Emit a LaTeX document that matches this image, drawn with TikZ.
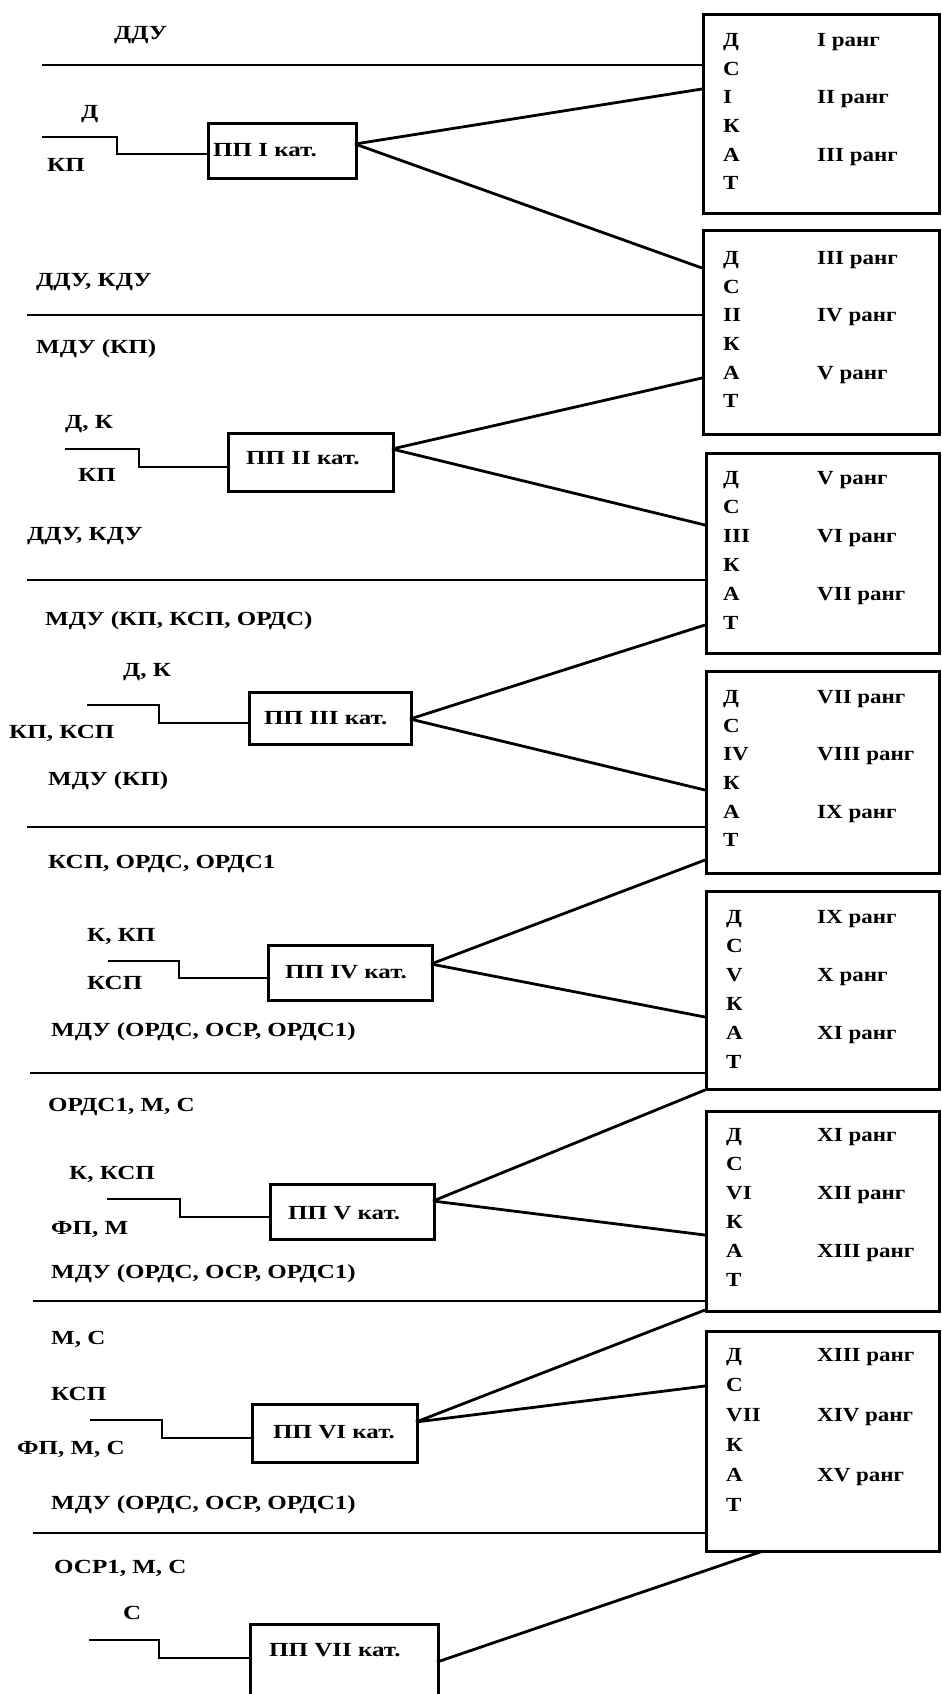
\documentclass[tikz,border=0pt]{standalone}
\usepackage{fontspec}
\newfontfamily\lblfont[FakeStretch=1.25]{Liberation Serif}
\newfontfamily\boxfont[FakeStretch=1.15]{Liberation Serif}
\begin{document}
\begin{tikzpicture}[x=1pt,y=-1pt,
  lbl/.style={anchor=west, inner sep=0pt, text height=13.2pt, text depth=0pt,
    font=\lblfont\bfseries\fontsize{20}{24}\selectfont},
  blbl/.style={lbl, font=\boxfont\bfseries\fontsize{20}{24}\selectfont},
  ln/.style={line width=2.8pt},
  ppbox/.style={draw, line width=3pt, inner sep=0pt, anchor=north west},
  rbox/.style={draw, line width=3.2pt, inner sep=0pt, anchor=north west},
]
\useasboundingbox[fill=white] (0,0) rectangle (942,1694);

% right boxes
\node[rbox, minimum width=236pt, minimum height=199pt] (r1) at (702,13) {};
\node[rbox, minimum width=236pt, minimum height=204pt] (r2) at (702,229) {};
\node[rbox, minimum width=233pt, minimum height=200pt] (r3) at (705,452) {};
\node[rbox, minimum width=233pt, minimum height=202pt] (r4) at (705,670) {};
\node[rbox, minimum width=233pt, minimum height=198pt] (r5) at (705,890) {};
\node[rbox, minimum width=233pt, minimum height=200pt] (r6) at (705,1110) {};
\node[rbox, minimum width=233pt, minimum height=220pt] (r7) at (705,1330) {};

\foreach \b/\xl/\yo/\dy/\num/\ra/\rb/\rc in {
  1/723/40/28.6/I/I/II/III,
  2/723/258/28.6/II/III/IV/V,
  3/723/478/29/III/V/VI/VII,
  4/723/697/28.6/IV/VII/VIII/IX,
  5/726/917/29/V/IX/X/XI,
  6/726/1135/29/VI/XI/XII/XIII,
  7/726/1355/30/VII/XIII/XIV/XV}{
  \foreach \t [count=\i from 0] in {Д,С,\num,К,А,Т}
    \node[blbl] (r\b l\i) at ({\xl},{\yo+\dy*\i}) {\t};
  \node[blbl] (r\b a) at (817,{\yo}) {\ra\ ранг};
  \node[blbl] (r\b b) at (817,{\yo+2*\dy}) {\rb\ ранг};
  \node[blbl] (r\b c) at (817,{\yo+4*\dy}) {\rc\ ранг};
}

% PP boxes
\node[ppbox, minimum width=148pt, minimum height=55pt] (p1) at (207,122) {};
\node[ppbox, minimum width=165pt, minimum height=58pt] (p2) at (227,432) {};
\node[ppbox, minimum width=162pt, minimum height=52pt] (p3) at (248,691) {};
\node[ppbox, minimum width=164pt, minimum height=55pt] (p4) at (267,944) {};
\node[ppbox, minimum width=164pt, minimum height=55pt] (p5) at (269,1183) {};
\node[ppbox, minimum width=165pt, minimum height=58pt] (p6) at (251,1403) {};
\node[ppbox, minimum width=188pt, minimum height=120pt] (p7) at (249,1623) {};

\node[lbl] (p1t) at (213,150) {ПП I кат.};
\node[lbl] (p2t) at (246,458) {ПП II кат.};
\node[lbl] (p3t) at (264,718) {ПП III кат.};
\node[lbl] (p4t) at (285,972) {ПП IV кат.};
\node[lbl] (p5t) at (288,1213) {ПП V кат.};
\node[lbl] (p6t) at (273,1432) {ПП VI кат.};
\node[lbl] (p7t) at (269,1650) {ПП VII кат.};

% left labels
\node[lbl] (t1) at (114,33) {ДДУ};
\node[lbl] (t2) at (81,112) {Д};
\node[lbl] (t3) at (47,165) {КП};
\node[lbl] (t4) at (36,280) {ДДУ, КДУ};
\node[lbl] (t5) at (36,347) {МДУ (КП)};
\node[lbl] (t6) at (65,422) {Д, К};
\node[lbl] (t7) at (78,475) {КП};
\node[lbl] (t8) at (27,534) {ДДУ, КДУ};
\node[lbl] (t9) at (45,619) {МДУ (КП, КСП, ОРДС)};
\node[lbl] (t10) at (123,670) {Д, К};
\node[lbl] (t11) at (9,732) {КП, КСП};
\node[lbl] (t12) at (48,779) {МДУ (КП)};
\node[lbl] (t13) at (48,862) {КСП, ОРДС, ОРДС1};
\node[lbl] (t14) at (87,935) {К, КП};
\node[lbl] (t15) at (87,983) {КСП};
\node[lbl] (t16) at (51,1030) {МДУ (ОРДС, ОСР, ОРДС1)};
\node[lbl] (t17) at (48,1105) {ОРДС1, М, С};
\node[lbl] (t18) at (69,1173) {К, КСП};
\node[lbl] (t19) at (51,1228) {ФП, М};
\node[lbl] (t20) at (51,1272) {МДУ (ОРДС, ОСР, ОРДС1)};
\node[lbl] (t21) at (51,1338) {М, С};
\node[lbl] (t22) at (51,1394) {КСП};
\node[lbl] (t23) at (17,1448) {ФП, М, С};
\node[lbl] (t24) at (51,1503) {МДУ (ОРДС, ОСР, ОРДС1)};
\node[lbl] (t25) at (54,1567) {ОСР1, М, С};
\node[lbl] (t26) at (123,1613) {С};

% horizontal lines
\coordinate (h1) at (42,65);
\coordinate (h2) at (27,315);
\coordinate (h3) at (27,580);
\coordinate (h4) at (27,827);
\coordinate (h5) at (30,1073);
\coordinate (h6) at (33,1301);
\coordinate (h7) at (33,1533);
\draw[ln] (h1) -- (h1 -| r1.west);
\draw[ln] (h2) -- (h2 -| r2.west);
\draw[ln] (h3) -- (h3 -| r3.west);
\draw[ln] (h4) -- (h4 -| r4.west);
\draw[ln] (h5) -- (h5 -| r5.west);
\draw[ln] (h6) -- (h6 -| r6.west);
\draw[ln] (h7) -- (h7 -| r7.west);

% steps into PP boxes
\coordinate (s1a) at (42,137);  \coordinate (s1b) at (117,154);
\coordinate (s2a) at (65,449);  \coordinate (s2b) at (139,467);
\coordinate (s3a) at (87,705);  \coordinate (s3b) at (159,723);
\coordinate (s4a) at (108,961); \coordinate (s4b) at (179,978);
\coordinate (s5a) at (107,1199);\coordinate (s5b) at (180,1217);
\coordinate (s6a) at (90,1420); \coordinate (s6b) at (162,1438);
\coordinate (s7a) at (89,1640); \coordinate (s7b) at (159,1658);
\foreach \k in {1,...,7}
  \draw[ln] (s\k a) -| (s\k b) -- (s\k b -| p\k.west);

% fan-out connectors
\coordinate (o1) at (355,144);
\coordinate (o2) at (392,449);
\coordinate (o3) at (410,719);
\coordinate (o4) at (431,964);
\coordinate (o5) at (433,1201);
\coordinate (o6) at (416,1422);
\coordinate (o7) at (437,1662);
\coordinate (e1a) at (702,89);   \coordinate (e1b) at (702,268);
\coordinate (e2a) at (702,378);  \coordinate (e2b) at (705,525);
\coordinate (e3a) at (705,625);  \coordinate (e3b) at (705,790);
\coordinate (e4a) at (705,860);  \coordinate (e4b) at (705,1017);
\coordinate (e5a) at (705,1090); \coordinate (e5b) at (705,1235);
\coordinate (e6a) at (705,1310); \coordinate (e6b) at (705,1386);
\coordinate (e7a) at (763,1551);
\foreach \k in {1,...,6}{
  \draw[ln] (o\k) -- (e\k a);
  \draw[ln] (o\k) -- (e\k b);
}
\draw[ln] (o7) -- (e7a);
\end{tikzpicture}
\end{document}
